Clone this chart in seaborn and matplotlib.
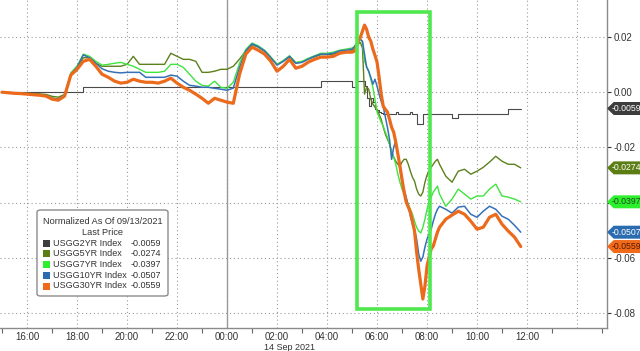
import numpy as np
import pandas as pd
import matplotlib
matplotlib.use("Agg")
import matplotlib.pyplot as plt
import matplotlib.dates as mdates
from matplotlib.patches import Polygon, Rectangle, FancyBboxPatch
from matplotlib.ticker import FuncFormatter, FixedLocator
from matplotlib.transforms import blended_transform_factory
import seaborn as sns

# ---------------- data ----------------
times = (list(pd.date_range("2021-09-13 15:00", "2021-09-14 04:45", freq="15min"))
         + list(pd.date_range("2021-09-14 05:00", "2021-09-14 08:30", freq="5min"))
         + list(pd.date_range("2021-09-14 08:45", "2021-09-14 11:45", freq="15min")))

usgg2 = [
    0.0000, 0.0000, 0.0000, 0.0000, 0.0000, 0.0000, 0.0000, 0.0000, 0.0000, 0.0000,
    0.0000, 0.0000, 0.0000, 0.0018, 0.0018, 0.0018, 0.0018, 0.0018, 0.0018, 0.0018,
    0.0018, 0.0018, 0.0018, 0.0018, 0.0018, 0.0018, 0.0018, 0.0018, 0.0018, 0.0018,
    0.0018, 0.0018, 0.0018, 0.0018, 0.0018, 0.0018, 0.0018, 0.0018, 0.0018, 0.0018,
    0.0018, 0.0018, 0.0018, 0.0018, 0.0018, 0.0018, 0.0018, 0.0018, 0.0018, 0.0018,
    0.0018, 0.0040, 0.0040, 0.0040, 0.0040, 0.0040,
    0.0018, 0.0018, 0.0040, 0.0040, 0.0040, 0.0040, 0.0022, -0.0020, -0.0050, -0.0020,
    -0.0035, -0.0060, -0.0065, -0.0070, -0.0075, -0.0080, -0.0080, -0.0080, -0.0080, -0.0080,
    -0.0080, -0.0072, -0.0080, -0.0080, -0.0080, -0.0080, -0.0080, -0.0080, -0.0072, -0.0080,
    -0.0080, -0.0116, -0.0116, -0.0116, -0.0080, -0.0080, -0.0080, -0.0080, -0.0080, -0.0080,
    -0.0080, -0.0080, -0.0080,
    -0.0080, -0.0094, -0.0080, -0.0080, -0.0080, -0.0080, -0.0080, -0.0080, -0.0080, -0.0080,
    -0.0059, -0.0059, -0.0059,
]

usgg5 = [
    0.0000, -0.0001, -0.0002, -0.0003, -0.0004, -0.0005, -0.0006, -0.0008, -0.0015, -0.0018,
    -0.0008, 0.0065, 0.0090, 0.0125, 0.0125, 0.0105, 0.0094, 0.0094, 0.0094, 0.0094,
    0.0101, 0.0130, 0.0101, 0.0101, 0.0101, 0.0101, 0.0101, 0.0141, 0.0130, 0.0119,
    0.0119, 0.0112, 0.0072, 0.0072, 0.0076, 0.0083, 0.0083, 0.0094, 0.0120, 0.0150,
    0.0172, 0.0163, 0.0148, 0.0125, 0.0101, 0.0112, 0.0128, 0.0105, 0.0110, 0.0120,
    0.0128, 0.0136, 0.0136, 0.0138, 0.0145, 0.0148,
    0.0150, 0.0158, 0.0165, 0.0175, 0.0180, 0.0160, -0.0007, 0.0018, 0.0011, -0.0025,
    -0.0043, -0.0054, -0.0062, -0.0080, -0.0098, -0.0127, -0.0152, -0.0170, -0.0188, -0.0214,
    -0.0235, -0.0250, -0.0261, -0.0268, -0.0253, -0.0243, -0.0243, -0.0261, -0.0286, -0.0308,
    -0.0322, -0.0351, -0.0369, -0.0376, -0.0362, -0.0326, -0.0300, -0.0286, -0.0272, -0.0261,
    -0.0250, -0.0243, -0.0261,
    -0.0304, -0.0326, -0.0286, -0.0279, -0.0297, -0.0286, -0.0272, -0.0253, -0.0232, -0.0250,
    -0.0261, -0.0261, -0.0274,
]

usgg7 = [
    0.0000, -0.0002, -0.0003, -0.0004, -0.0006, -0.0008, -0.0010, -0.0012, -0.0021, -0.0024,
    -0.0010, 0.0070, 0.0095, 0.0138, 0.0130, 0.0112, 0.0098, 0.0101, 0.0105, 0.0108,
    0.0101, 0.0094, 0.0083, 0.0072, 0.0072, 0.0072, 0.0076, 0.0101, 0.0101, 0.0090,
    0.0065, 0.0040, 0.0025, 0.0022, 0.0040, 0.0018, 0.0014, 0.0036, 0.0105, 0.0155,
    0.0178, 0.0168, 0.0152, 0.0128, 0.0101, 0.0115, 0.0132, 0.0108, 0.0112, 0.0123,
    0.0132, 0.0141, 0.0141, 0.0145, 0.0152, 0.0156,
    0.0160, 0.0165, 0.0175, 0.0185, 0.0192, 0.0180, 0.0112, 0.0094, 0.0076, 0.0047,
    0.0018, -0.0025, -0.0072, -0.0090, -0.0109, -0.0123, -0.0145, -0.0163, -0.0188, -0.0214,
    -0.0235, -0.0261, -0.0297, -0.0326, -0.0351, -0.0369, -0.0387, -0.0405, -0.0424, -0.0442,
    -0.0467, -0.0489, -0.0503, -0.0510, -0.0489, -0.0460, -0.0424, -0.0395, -0.0380, -0.0362,
    -0.0351, -0.0340, -0.0369,
    -0.0413, -0.0387, -0.0351, -0.0369, -0.0387, -0.0376, -0.0376, -0.0351, -0.0333, -0.0376,
    -0.0380, -0.0387, -0.0397,
]

usgg10 = [
    0.0000, -0.0002, -0.0003, -0.0005, -0.0006, -0.0008, -0.0010, -0.0012, -0.0022, -0.0025,
    -0.0011, 0.0065, 0.0090, 0.0135, 0.0125, 0.0105, 0.0085, 0.0076, 0.0072, 0.0070,
    0.0072, 0.0072, 0.0072, 0.0054, 0.0054, 0.0054, 0.0054, 0.0062, 0.0058, 0.0040,
    0.0025, 0.0022, 0.0018, 0.0018, 0.0014, 0.0011, 0.0007, 0.0015, 0.0090, 0.0150,
    0.0175, 0.0165, 0.0150, 0.0125, 0.0098, 0.0112, 0.0130, 0.0105, 0.0108, 0.0120,
    0.0130, 0.0138, 0.0138, 0.0141, 0.0150, 0.0152,
    0.0156, 0.0163, 0.0174, 0.0185, 0.0192, 0.0185, 0.0138, 0.0090, 0.0076, 0.0054,
    0.0029, 0.0047, 0.0022, -0.0007, -0.0033, -0.0054, -0.0090, -0.0127, -0.0170, -0.0243,
    -0.0199, -0.0177, -0.0224, -0.0279, -0.0326, -0.0351, -0.0380, -0.0413, -0.0449, -0.0478,
    -0.0496, -0.0532, -0.0586, -0.0612, -0.0597, -0.0561, -0.0532, -0.0514, -0.0496, -0.0467,
    -0.0442, -0.0424, -0.0413,
    -0.0424, -0.0438, -0.0416, -0.0413, -0.0442, -0.0453, -0.0431, -0.0413, -0.0424, -0.0449,
    -0.0460, -0.0482, -0.0507,
]

usgg30 = [
    0.0000, -0.0002, -0.0004, -0.0005, -0.0007, -0.0009, -0.0011, -0.0014, -0.0025, -0.0029,
    -0.0014, 0.0062, 0.0083, 0.0112, 0.0119, 0.0094, 0.0065, 0.0054, 0.0040, 0.0033,
    0.0036, 0.0047, 0.0040, 0.0036, 0.0036, 0.0033, 0.0040, 0.0051, 0.0033, 0.0018,
    0.0007, -0.0007, -0.0022, -0.0040, -0.0022, -0.0029, -0.0036, -0.0040, 0.0065, 0.0138,
    0.0163, 0.0152, 0.0138, 0.0112, 0.0076, 0.0094, 0.0119, 0.0087, 0.0094, 0.0109,
    0.0119, 0.0127, 0.0127, 0.0130, 0.0141, 0.0145,
    0.0145, 0.0148, 0.0163, 0.0185, 0.0199, 0.0221, 0.0243, 0.0228, 0.0199, 0.0185,
    0.0156, 0.0134, 0.0109, 0.0054, -0.0007, -0.0051, -0.0062, -0.0072, -0.0098, -0.0127,
    -0.0145, -0.0181, -0.0224, -0.0268, -0.0315, -0.0362, -0.0398, -0.0416, -0.0434, -0.0467,
    -0.0503, -0.0579, -0.0641, -0.0695, -0.0749, -0.0702, -0.0630, -0.0597, -0.0568, -0.0557,
    -0.0532, -0.0507, -0.0489,
    -0.0460, -0.0445, -0.0431, -0.0442, -0.0467, -0.0496, -0.0489, -0.0453, -0.0442, -0.0478,
    -0.0503, -0.0525, -0.0559,
]

series_names = ["USGG2YR Index", "USGG5YR Index", "USGG7YR Index", "USGG10YR Index", "USGG30YR Index"]
last_prices = [-0.0059, -0.0274, -0.0397, -0.0507, -0.0559]
series_values = [usgg2, usgg5, usgg7, usgg10, usgg30]

y_ticks = [0.02, 0.00, -0.02, -0.04, -0.06, -0.08]
y_tick_hidden = [-0.04]  # covered by the -0.0397 price tag in the reference
legend_title = "Normalized As Of 09/13/2021"
legend_subtitle = "Last Price"
date_label = "14 Sep 2021"

# highlight box (annotation) bounds
hl_start, hl_end = pd.Timestamp("2021-09-14 05:12"), pd.Timestamp("2021-09-14 08:07")
hl_low, hl_high = -0.0786, 0.0290

# ---------------- style ----------------
line_colors = ["#4a4a4a", "#5d801c", "#3fe43f", "#3571b8", "#ec6a1c"]
line_widths = [0.8, 1.0, 1.0, 1.1, 2.3]
draw_styles = ["steps-post", "default", "default", "default", "default"]
tag_colors = ["#3d3d3d", "#5b7d14", "#2df02d", "#2b6cb0", "#f06a1a"]
tag_text_colors = ["white", "white", "#1d4a1d", "white", "#5a1800"]

sns.set_theme(style="white")
plt.rcParams["font.family"] = ["Liberation Sans", "DejaVu Sans"]
plt.rcParams["axes.unicode_minus"] = False

W, H = 640, 351
fig = plt.figure(figsize=(6.4, 3.51), dpi=100)
fig.patch.set_facecolor("white")
ax = fig.add_axes([0, 1 - 328 / H, 607 / W, 328 / H])

df = pd.DataFrame({"time": times})
for name, vals, c, lw, ds in zip(series_names, series_values, line_colors, line_widths, draw_styles):
    d = df.copy()
    d["value"] = vals
    sns.lineplot(data=d, x="time", y="value", color=c, linewidth=lw, ax=ax,
                 drawstyle=ds, legend=False, estimator=None, zorder=3)

ax.set_xlim(pd.Timestamp("2021-09-13 14:55"), pd.Timestamp("2021-09-14 15:12"))
ax.set_ylim(-0.0854, 0.0334)
ax.set_xlabel("")
ax.set_ylabel("")

# x axis: labels every 2 h, small tick marks at the odd hours
ax.xaxis.set_major_locator(mdates.HourLocator(byhour=range(0, 24, 2)))
ax.xaxis.set_minor_locator(mdates.HourLocator(byhour=range(1, 24, 2)))
ax.xaxis.set_major_formatter(mdates.DateFormatter("%H:%M"))
ax.tick_params(axis="x", which="major", labelsize=7, length=0, pad=3, colors="#333333",
               bottom=True)
ax.tick_params(axis="x", which="minor", length=3.5, width=0.8, color="#666666", bottom=True,
               direction="out")
fig.canvas.draw()
for lab in ax.get_xticklabels():
    if lab.get_text() == "14:00":
        lab.set_visible(False)

# y axis on the right
ax.yaxis.tick_right()
ax.yaxis.set_major_locator(FixedLocator(y_ticks))


def yfmt(v, p):
    if any(abs(v - h) < 1e-9 for h in y_tick_hidden):
        return ""
    return "0.00" if abs(v) < 1e-9 else f"{v:.2f}"


ax.yaxis.set_major_formatter(FuncFormatter(yfmt))
ax.tick_params(axis="y", labelsize=7, length=3, width=0.8, pad=2, colors="#333333",
               direction="out", right=True)
ax.tick_params(axis="y", which="both", left=False)

ax.grid(True, which="major", linestyle=(0, (1, 2.5)), color="#9a9a9a", linewidth=0.8)
for s in ["top", "left"]:
    ax.spines[s].set_visible(False)
for s in ["right", "bottom"]:
    ax.spines[s].set_color("#8a8a8a")
    ax.spines[s].set_linewidth(1.0)

# day separator
ax.axvline(pd.Timestamp("2021-09-14 00:00"), color="#9a9a9a", linewidth=1.0, zorder=2)

# date label
trans_xd = blended_transform_factory(ax.transData, ax.transAxes)
ax.text(mdates.date2num(pd.Timestamp("2021-09-14 02:30")), -19.5 / 328, date_label,
        transform=trans_xd, ha="center", va="center", fontsize=6.5, color="#333333")

# highlight box
x0 = mdates.date2num(hl_start)
x1 = mdates.date2num(hl_end)
ax.add_patch(Rectangle((x0, hl_low), x1 - x0, hl_high - hl_low, fill=False,
                       edgecolor="#4fe84f", linewidth=2.6, zorder=5))

# right-side value tags
trans_fy = blended_transform_factory(fig.transFigure, ax.transData)
tag_h = 0.0042
xa = 608 / W
xb = 614 / W
for val, fc, tc in zip(last_prices, tag_colors, tag_text_colors):
    poly = Polygon([(xa, val), (xb, val + tag_h / 2), (1.0, val + tag_h / 2),
                    (1.0, val - tag_h / 2), (xb, val - tag_h / 2)],
                   closed=True, transform=trans_fy, facecolor=fc, edgecolor=fc,
                   clip_on=False, zorder=10)
    fig.add_artist(poly)
    fig.text(611.5 / W, val, f"{val:.4f}", transform=trans_fy, ha="left", va="center",
             fontsize=6.3, color=tc, zorder=11)


# legend box (figure pixels)
def fx(px):
    return px / W


def fy(py):
    return 1 - py / H


box = FancyBboxPatch((fx(37), fy(296)), fx(168) - fx(37), fy(210) - fy(296),
                     boxstyle="round,pad=0,rounding_size=0.006", transform=fig.transFigure,
                     facecolor="white", edgecolor="#8c8c8c", linewidth=1.0, zorder=20)
fig.add_artist(box)
fig.text(fx(102.5), fy(222), legend_title, ha="center", va="center", fontsize=6.6,
         color="#333333", zorder=21)
fig.text(fx(102.5), fy(232.5), legend_subtitle, ha="center", va="center", fontsize=6.6,
         color="#333333", zorder=21)
row_y = [243, 253.5, 264.5, 275, 286]
for ry, name, val, c in zip(row_y, series_names, last_prices, tag_colors):
    fig.add_artist(Rectangle((fx(43), fy(ry + 3.5)), fx(50) - fx(43), fy(ry - 3.5) - fy(ry + 3.5),
                             transform=fig.transFigure, facecolor=c, edgecolor="none", zorder=21))
    fig.text(fx(53), fy(ry), name, ha="left", va="center", fontsize=6.5, color="#333333", zorder=21)
    fig.text(fx(161), fy(ry), f"{val:.4f}", ha="right", va="center", fontsize=6.5,
             color="#333333", zorder=21)

fig.savefig("out.png", dpi=100, facecolor="white")
